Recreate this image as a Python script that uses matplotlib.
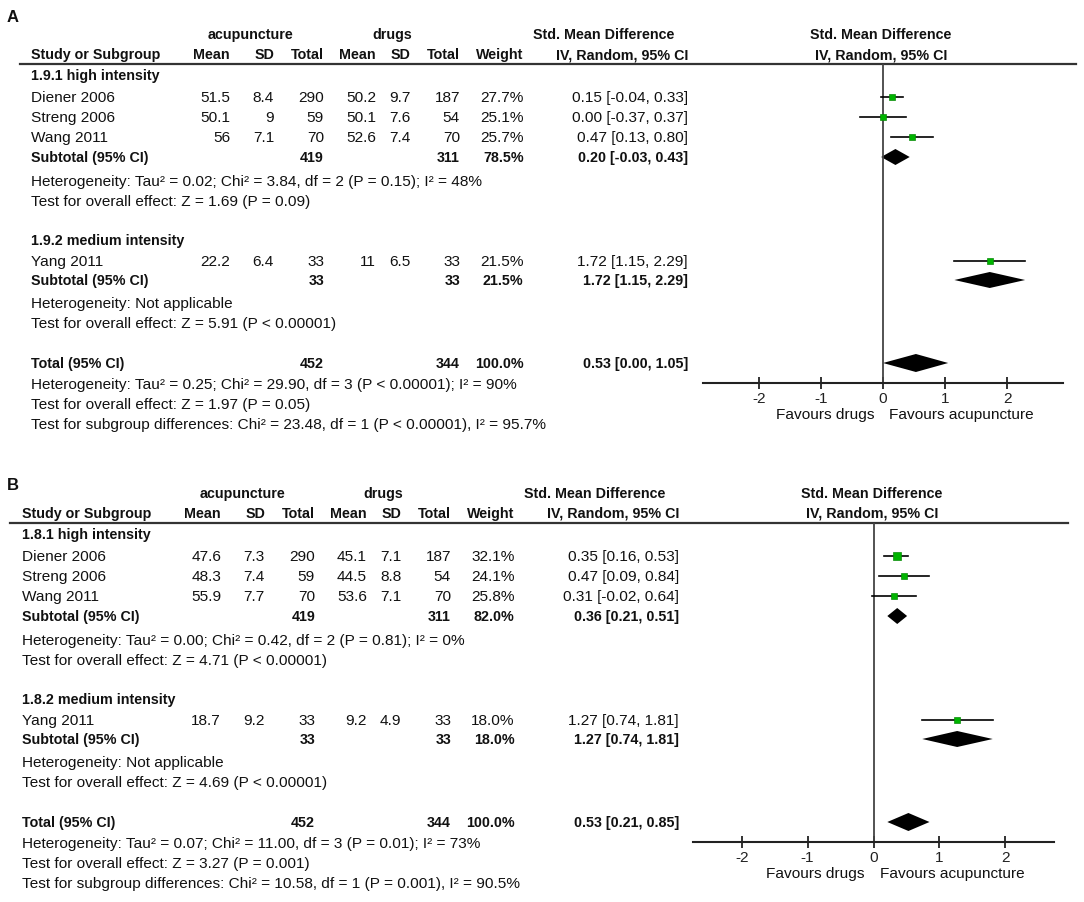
import numpy as np
import matplotlib
matplotlib.use("Agg")
import matplotlib.pyplot as plt

plt.rcParams['font.family'] = ['Liberation Sans', 'DejaVu Sans']
plt.rcParams['axes.unicode_minus'] = False

W, H = 1084, 903
FS = 11.1      # regular text
FSB = 10.3     # bold text
GREEN = '#00b400'
INK = '#111111'

# ---------------- data: panel A ----------------
studies = [["Diener 2006", "Streng 2006", "Wang 2011"], ["Yang 2011"]]
acu_n = [[290, 59, 70], [33]]
drug_n = [[187, 54, 70], [33]]

a_groups = ["1.9.1 high intensity", "1.9.2 medium intensity"]
a_acu_mean = [[51.5, 50.1, 56], [22.2]]
a_acu_sd = [[8.4, 9, 7.1], [6.4]]
a_drug_mean = [[50.2, 50.1, 52.6], [11]]
a_drug_sd = [[9.7, 7.6, 7.4], [6.5]]
a_weight = [[27.7, 25.1, 25.7], [21.5]]
a_smd = [[0.15, 0.00, 0.47], [1.72]]
a_lo = [[-0.04, -0.37, 0.13], [1.15]]
a_hi = [[0.33, 0.37, 0.80], [2.29]]
a_sub_acu_n = [419, 33]
a_sub_drug_n = [311, 33]
a_sub_weight = [78.5, 21.5]
a_sub_smd = [0.20, 1.72]
a_sub_lo = [-0.03, 1.15]
a_sub_hi = [0.43, 2.29]
a_sub_het = ["Heterogeneity: Tau\u00b2 = 0.02; Chi\u00b2 = 3.84, df = 2 (P = 0.15); I\u00b2 = 48%",
             "Heterogeneity: Not applicable"]
a_sub_z = ["Test for overall effect: Z = 1.69 (P = 0.09)",
           "Test for overall effect: Z = 5.91 (P < 0.00001)"]
a_tot = dict(acu_n=452, drug_n=344, weight=100.0, smd=0.53, lo=0.00, hi=1.05)
a_tot_text = ["Heterogeneity: Tau\u00b2 = 0.25; Chi\u00b2 = 29.90, df = 3 (P < 0.00001); I\u00b2 = 90%",
              "Test for overall effect: Z = 1.97 (P = 0.05)",
              "Test for subgroup differences: Chi\u00b2 = 23.48, df = 1 (P < 0.00001), I\u00b2 = 95.7%"]

# ---------------- data: panel B ----------------
b_groups = ["1.8.1 high intensity", "1.8.2 medium intensity"]
b_acu_mean = [[47.6, 48.3, 55.9], [18.7]]
b_acu_sd = [[7.3, 7.4, 7.7], [9.2]]
b_drug_mean = [[45.1, 44.5, 53.6], [9.2]]
b_drug_sd = [[7.1, 8.8, 7.1], [4.9]]
b_weight = [[32.1, 24.1, 25.8], [18.0]]
b_smd = [[0.35, 0.47, 0.31], [1.27]]
b_lo = [[0.16, 0.09, -0.02], [0.74]]
b_hi = [[0.53, 0.84, 0.64], [1.81]]
b_sub_acu_n = [419, 33]
b_sub_drug_n = [311, 33]
b_sub_weight = [82.0, 18.0]
b_sub_smd = [0.36, 1.27]
b_sub_lo = [0.21, 0.74]
b_sub_hi = [0.51, 1.81]
b_sub_het = ["Heterogeneity: Tau\u00b2 = 0.00; Chi\u00b2 = 0.42, df = 2 (P = 0.81); I\u00b2 = 0%",
             "Heterogeneity: Not applicable"]
b_sub_z = ["Test for overall effect: Z = 4.71 (P < 0.00001)",
           "Test for overall effect: Z = 4.69 (P < 0.00001)"]
b_tot = dict(acu_n=452, drug_n=344, weight=100.0, smd=0.53, lo=0.21, hi=0.85)
b_tot_text = ["Heterogeneity: Tau\u00b2 = 0.07; Chi\u00b2 = 11.00, df = 3 (P = 0.01); I\u00b2 = 73%",
              "Test for overall effect: Z = 3.27 (P = 0.001)",
              "Test for subgroup differences: Chi\u00b2 = 10.58, df = 1 (P = 0.001), I\u00b2 = 90.5%"]

ticks = [-2, -1, 0, 1, 2]

# row layout (pixels from top, panel A; panel B is shifted down)
ROW = dict(head1=35, head2=55, line=65, group=[76, 241],
           study=[[98, 118, 138], [262]], sub=[158, 281], het=[182, 304], z=[202, 324],
           total=364, tot_text=[385, 405, 425], axis=384, fav=415)
# column right edges (pixels, panel A)
COL = [230, 274, 324, 376, 410.5, 460, 523.5, 688]

fig = plt.figure(figsize=(W / 100, H / 100), dpi=100)
bg = fig.add_axes([0, 0, 1, 1])
bg.set_xlim(0, W)
bg.set_ylim(H, 0)
bg.axis('off')


def ci_text(m, lo, hi):
    return f"{m:.2f} [{lo:.2f}, {hi:.2f}]"


def txt(x, y, s, bold=False, ha='left'):
    bg.text(x, y, s, fontsize=FSB if bold else FS, ha=ha, va='center', color=INK,
            fontweight='bold' if bold else 'normal')


def draw_panel(letter, letter_y, dx, dy, line_x, f_px, f_lim, groups,
               acu_mean, acu_sd, drug_mean, drug_sd, weight, smd, lo, hi,
               sub_acu_n, sub_drug_n, sub_weight, sub_smd, sub_lo, sub_hi,
               sub_het, sub_z, tot, tot_text):
    c = [x + dx for x in COL]
    name_x = 31 + dx
    bg.text(7, letter_y, letter, fontsize=12, fontweight='bold', va='center', color=INK)

    # headers
    txt(251 + dx, ROW['head1'] + dy, "acupuncture", True, 'center')
    txt(392 + dx, ROW['head1'] + dy, "drugs", True, 'center')
    txt(604 + dx, ROW['head1'] + dy, "Std. Mean Difference", True, 'center')
    txt(881 + dx, ROW['head1'] + dy, "Std. Mean Difference", True, 'center')
    txt(name_x, ROW['head2'] + dy, "Study or Subgroup", True)
    for x, s in zip(c[:7], ["Mean", "SD", "Total", "Mean", "SD", "Total", "Weight"]):
        txt(x, ROW['head2'] + dy, s, True, 'right')
    txt(c[7], ROW['head2'] + dy, "IV, Random, 95% CI", True, 'right')
    txt(881 + dx, ROW['head2'] + dy, "IV, Random, 95% CI", True, 'center')
    bg.plot(line_x, [ROW['line'] + dy] * 2, color='#333333', lw=1.6)

    # forest axes
    top = ROW['line'] + dy
    bot = ROW['axis'] + dy
    ax = fig.add_axes([f_px[0] / W, 1 - bot / H, (f_px[1] - f_px[0]) / W, (bot - top) / H])
    ax.set_xlim(*f_lim)
    ax.set_ylim(bot, top)
    ax.patch.set_alpha(0)
    for sp in ['top', 'left', 'right']:
        ax.spines[sp].set_visible(False)
    ax.spines['bottom'].set_linewidth(1.5)
    ax.spines['bottom'].set_color('#222222')
    ax.set_yticks([])
    ax.set_xticks(ticks)
    ax.set_xticklabels([str(t) for t in ticks])
    ax.tick_params(axis='x', direction='inout', length=9, width=1.3, pad=1,
                   labelsize=FS, colors='#222222')
    ax.axvline(0, color='#444444', lw=1.3)
    ax.annotate("Favours drugs", xy=(0, ROW['fav'] + dy), xytext=(-9, 0),
                textcoords='offset pixels', ha='right', va='center', fontsize=FS,
                color=INK, annotation_clip=False)
    ax.annotate("Favours acupuncture", xy=(0, ROW['fav'] + dy), xytext=(6, 0),
                textcoords='offset pixels', ha='left', va='center', fontsize=FS,
                color=INK, annotation_clip=False)

    def diamond(m, l, h, y, half):
        ax.fill([l, m, h, m], [y, y - half, y, y + half], color='black', lw=0, clip_on=False)

    for g in range(len(groups)):
        txt(name_x, ROW['group'][g] + dy, groups[g], True)
        for i, name in enumerate(studies[g]):
            y = ROW['study'][g][i] + dy
            vals = [f"{acu_mean[g][i]:g}", f"{acu_sd[g][i]:g}", f"{acu_n[g][i]}",
                    f"{drug_mean[g][i]:g}", f"{drug_sd[g][i]:g}", f"{drug_n[g][i]}",
                    f"{weight[g][i]:.1f}%", ci_text(smd[g][i], lo[g][i], hi[g][i])]
            txt(name_x, y, name)
            for x, s in zip(c, vals):
                txt(x, y, s, ha='right')
            ax.plot([lo[g][i], hi[g][i]], [y, y], color='black', lw=1.2, clip_on=False)
            ax.plot(smd[g][i], y, marker='s', color=GREEN, mec='#0a8a0a', mew=0.5,
                    ms=3.0 + 0.07 * weight[g][i], clip_on=False)
        y = ROW['sub'][g] + dy
        txt(name_x, y, "Subtotal (95% CI)", True)
        txt(c[2], y, f"{sub_acu_n[g]}", True, 'right')
        txt(c[5], y, f"{sub_drug_n[g]}", True, 'right')
        txt(c[6], y, f"{sub_weight[g]:.1f}%", True, 'right')
        txt(c[7], y, ci_text(sub_smd[g], sub_lo[g], sub_hi[g]), True, 'right')
        diamond(sub_smd[g], sub_lo[g], sub_hi[g], y, 8)
        txt(name_x, ROW['het'][g] + dy, sub_het[g])
        txt(name_x, ROW['z'][g] + dy, sub_z[g])

    y = ROW['total'] + dy
    txt(name_x, y, "Total (95% CI)", True)
    txt(c[2], y, f"{tot['acu_n']}", True, 'right')
    txt(c[5], y, f"{tot['drug_n']}", True, 'right')
    txt(c[6], y, f"{tot['weight']:.1f}%", True, 'right')
    txt(c[7], y, ci_text(tot['smd'], tot['lo'], tot['hi']), True, 'right')
    diamond(tot['smd'], tot['lo'], tot['hi'], y, 9)
    for yy, s in zip(ROW['tot_text'], tot_text):
        txt(name_x, yy + dy, s)


draw_panel("A", 18, 0, 0, [20, 1076], (703, 1063), (-2.9, 2.9), a_groups,
           a_acu_mean, a_acu_sd, a_drug_mean, a_drug_sd, a_weight, a_smd, a_lo, a_hi,
           a_sub_acu_n, a_sub_drug_n, a_sub_weight, a_sub_smd, a_sub_lo, a_sub_hi,
           a_sub_het, a_sub_z, a_tot, a_tot_text)
draw_panel("B", 486, -9, 459, [10, 1068], (693, 1054), (-2.74, 2.74), b_groups,
           b_acu_mean, b_acu_sd, b_drug_mean, b_drug_sd, b_weight, b_smd, b_lo, b_hi,
           b_sub_acu_n, b_sub_drug_n, b_sub_weight, b_sub_smd, b_sub_lo, b_sub_hi,
           b_sub_het, b_sub_z, b_tot, b_tot_text)

fig.savefig("out.png", dpi=100)
